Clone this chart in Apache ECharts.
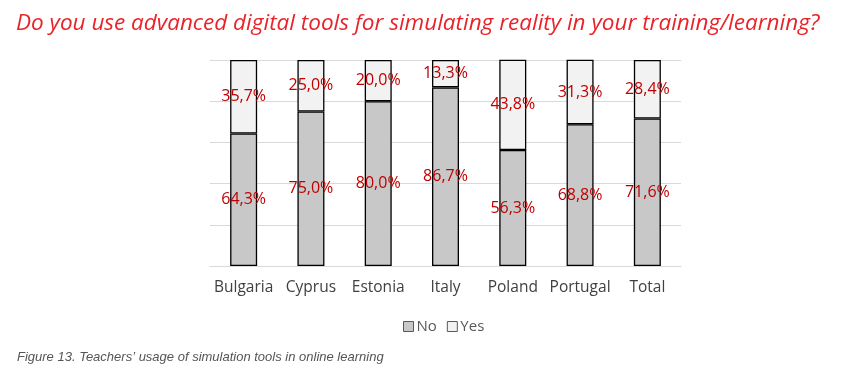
<!DOCTYPE html>
<html><head><meta charset="utf-8">
<script src="https://cdn.jsdelivr.net/npm/echarts@6/dist/echarts.min.js"></script>
<style>html,body{margin:0;padding:0;background:#fff}#c{width:858px;height:373px}</style>
</head><body><div id="c"></div>
<script>
const categories = ["Bulgaria","Cyprus","Estonia","Italy","Poland","Portugal","Total"];
const noValues = [64.3, 75.0, 80.0, 86.7, 56.3, 68.8, 71.6];
const yesValues = [35.7, 25.0, 20.0, 13.3, 43.8, 31.3, 28.4];
const titleText = "Do you use advanced digital tools for simulating reality in your training/learning?";
const captionText = "Figure 13. Teachers\u2019 usage of simulation tools in online learning";

const chart = echarts.init(document.getElementById('c'));
const fmt = p => p.value.toFixed(1).replace('.', ',') + '%';
const lbl = {show:true, position:'inside', formatter:fmt, color:'#c00000', fontSize:16, fontFamily:'Open Sans'};
chart.setOption({
  animation:false,
  title:[
    {text:titleText, left:11, top:7, textStyle:{color:'#e8232a', fontSize:22.5, fontStyle:'italic', fontWeight:'normal', fontFamily:'Open Sans'}},
    {text:captionText, left:12, top:346, textStyle:{color:'#555', fontSize:13, fontStyle:'italic', fontWeight:'normal', fontFamily:'Liberation Sans'}}
  ],
  legend:{data:['No','Yes'], left:398, top:314, itemWidth:10, itemHeight:10, itemGap:10,
    itemStyle:{borderColor:'#595959', borderWidth:1},
    textStyle:{color:'#595959', fontSize:15, fontFamily:'Open Sans', padding:[0,0,0,-2]}, icon:'rect'},
  grid:{left:210, right:177, top:60, bottom:107},
  xAxis:{type:'category', data:categories, axisTick:{show:false},
    axisLine:{lineStyle:{color:'#d9d9d9'}},
    axisLabel:{color:'#404040', fontSize:15.5, fontFamily:'Open Sans', margin:14, interval:0}},
  yAxis:{type:'value', min:0, max:100, interval:20, axisLabel:{show:false},
    splitLine:{lineStyle:{color:'#d9d9d9'}}},
  series:[
    {name:'No', type:'bar', stack:'s', data:noValues, barWidth:27,
      itemStyle:{color:'#c8c8c8', borderColor:'#000', borderWidth:1.3}, label:lbl},
    {name:'Yes', type:'bar', stack:'s', data:yesValues, barWidth:27,
      itemStyle:{color:'#f2f2f2', borderColor:'#000', borderWidth:1.3}, label:lbl}
  ]
});
</script></body></html>
